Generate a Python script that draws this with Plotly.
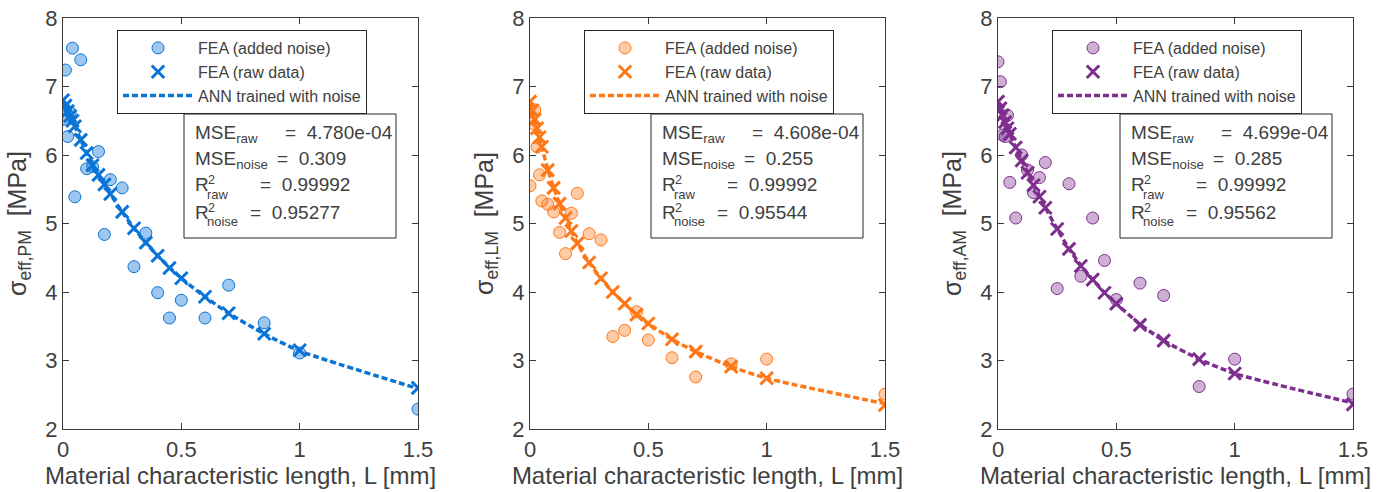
import plotly.graph_objects as go

# ---------------- data ----------------
L_mm = [0, 0.01, 0.02, 0.03, 0.04, 0.05, 0.075, 0.1, 0.125, 0.15, 0.175, 0.2,
        0.25, 0.3, 0.35, 0.4, 0.45, 0.5, 0.6, 0.7, 0.85, 1.0, 1.5]

pm_raw = [6.80, 6.72, 6.64, 6.57, 6.50, 6.42, 6.22, 6.03, 5.85, 5.71, 5.57, 5.43,
          5.17, 4.93, 4.72, 4.53, 4.35, 4.20, 3.93, 3.69, 3.39, 3.15, 2.60]
pm_noise = [6.52, 7.24, 6.27, 6.62, 7.56, 5.39, 7.39, 5.80, 5.83, 6.05, 4.84, 5.64,
            5.52, 4.37, 4.86, 3.99, 3.62, 3.88, 3.62, 4.10, 3.55, 3.11, 2.29]
pm_ann = [6.79, 6.71, 6.63, 6.56, 6.49, 6.42, 6.22, 6.03, 5.86, 5.71, 5.57, 5.43,
          5.17, 4.93, 4.72, 4.53, 4.36, 4.20, 3.93, 3.69, 3.39, 3.14, 2.59]

lm_raw = [6.78, 6.65, 6.52, 6.39, 6.26, 6.12, 5.78, 5.52, 5.29, 5.08, 4.89, 4.71,
          4.43, 4.20, 4.00, 3.83, 3.67, 3.54, 3.31, 3.13, 2.91, 2.74, 2.35]
lm_noise = [5.55, 6.46, 6.66, 6.12, 5.71, 5.33, 5.28, 5.17, 4.87, 4.56, 5.15, 5.44,
            4.85, 4.76, 3.35, 3.44, 3.71, 3.30, 3.04, 2.76, 2.95, 3.02, 2.51]
lm_ann = [6.77, 6.64, 6.51, 6.38, 6.25, 6.12, 5.79, 5.52, 5.29, 5.08, 4.89, 4.71,
          4.43, 4.20, 4.00, 3.83, 3.67, 3.54, 3.31, 3.13, 2.91, 2.74, 2.37]

am_raw = [6.78, 6.68, 6.58, 6.48, 6.39, 6.31, 6.11, 5.92, 5.74, 5.56, 5.39, 5.23,
          4.92, 4.63, 4.38, 4.18, 3.99, 3.83, 3.52, 3.29, 3.02, 2.81, 2.36]
am_noise = [7.36, 7.07, 6.29, 6.27, 6.58, 5.60, 5.08, 6.00, 5.78, 5.45, 5.67, 5.89,
            4.05, 5.58, 4.23, 5.08, 4.46, 3.89, 4.13, 3.95, 2.62, 3.02, 2.51]
am_ann = [6.78, 6.68, 6.58, 6.48, 6.39, 6.31, 6.11, 5.92, 5.74, 5.56, 5.39, 5.23,
          4.92, 4.63, 4.39, 4.18, 3.99, 3.83, 3.53, 3.29, 3.02, 2.81, 2.38]

panel_names = ["PM", "LM", "AM"]
stats_mse_raw = ["4.780e-04", "4.608e-04", "4.699e-04"]
stats_mse_noise = ["0.309", "0.255", "0.285"]
stats_r2_raw = ["0.99992", "0.99992", "0.99992"]
stats_r2_noise = ["0.95277", "0.95544", "0.95562"]

x_ticks = [0, 0.5, 1, 1.5]
x_tick_text = ["0", "0.5", "1", "1.5"]
y_ticks = [2, 3, 4, 5, 6, 7, 8]

# ---------------- style ----------------
W, H = 1383, 492
colors = ["#0A74D6", "#FF7716", "#7E2F8E"]
fills = ["rgba(10,116,214,0.40)", "rgba(255,119,22,0.38)", "rgba(126,47,142,0.38)"]
axis_color = "#3a3a3a"
text_color = "#404040"
FONT = "Liberation Sans, Arial, sans-serif"

x_px = [(63, 418), (530, 885), (998, 1353)]
y_px = (18, 429)
legend_px = [(117, 30), (584, 30), (1052, 30)]
stats_box = [(184, 114), (651, 114), (1120, 114)]
STATS_W, STATS_H = 212, 124
# row layout inside the stats box (px offsets from the box's top-left)
row_y = [18, 44, 71, 99]
eq_x = [99, 91, 74, 64]
lab_x = 9

raws = [pm_raw, lm_raw, am_raw]
noises = [pm_noise, lm_noise, am_noise]
anns = [pm_ann, lm_ann, am_ann]

fig = go.Figure()
layout = dict(
    width=W, height=H,
    margin=dict(l=0, r=0, t=0, b=0, autoexpand=False),
    paper_bgcolor="white", plot_bgcolor="white",
    font=dict(family=FONT, color=text_color),
    showlegend=True,
    annotations=[], shapes=[],
)


def px(xp, yp):
    return xp / W, 1 - yp / H


def add_text(text, xp, yp, size, xanchor="left"):
    x, y = px(xp, yp)
    layout["annotations"].append(dict(
        xref="paper", yref="paper", x=x, y=y, xanchor=xanchor, yanchor="middle",
        text=text, showarrow=False, align="left",
        font=dict(size=size, color=text_color, family=FONT)))


nbsp = "\u00a0"
for i in range(3):
    sfx = "" if i == 0 else str(i + 1)
    xa, ya = "x" + sfx, "y" + sfx
    leg = "legend" + sfx
    c = colors[i]
    fig.add_trace(go.Scatter(
        x=L_mm, y=noises[i], mode="markers", name="FEA (added noise)",
        marker=dict(symbol="circle", size=12, color=fills[i],
                    line=dict(color=c, width=1)),
        xaxis=xa, yaxis=ya, legend=leg, legendrank=1))
    fig.add_trace(go.Scatter(
        x=L_mm, y=anns[i], mode="lines", name="ANN trained with noise",
        line=dict(color=c, width=3.5, dash="6px,3px", shape="spline", smoothing=0.6),
        xaxis=xa, yaxis=ya, legend=leg, legendrank=3))
    fig.add_trace(go.Scatter(
        x=L_mm, y=raws[i], mode="markers", name="FEA (raw data)",
        marker=dict(symbol="x-thin", size=12.5, color=c,
                    line=dict(color=c, width=3)),
        xaxis=xa, yaxis=ya, legend=leg, legendrank=2))

    x0, x1 = x_px[i]
    layout["xaxis" + sfx] = dict(
        domain=[x0 / W, x1 / W], range=[0, 1.5], anchor=ya, automargin=False,
        tickvals=x_ticks, ticktext=x_tick_text, ticks="inside", ticklen=6,
        tickcolor=axis_color, showline=True, linecolor=axis_color, linewidth=1.3,
        mirror="ticks", showgrid=False, zeroline=False,
        tickfont=dict(size=22, color=text_color, family=FONT),
        title=dict(text="Material characteristic length, L [mm]",
                   font=dict(size=24, color=text_color, family=FONT), standoff=4),
    )
    layout["yaxis" + sfx] = dict(
        domain=[1 - y_px[1] / H, 1 - y_px[0] / H], range=[2, 8], anchor=xa, automargin=False,
        tickvals=y_ticks, ticks="inside", ticklen=6,
        tickcolor=axis_color, showline=True, linecolor=axis_color, linewidth=1.3,
        mirror="ticks", showgrid=False, zeroline=False,
        tickfont=dict(size=22, color=text_color, family=FONT),
        title=dict(text="\u03c3<sub>eff," + panel_names[i] + "</sub>" + nbsp + nbsp + "[MPa]",
                   font=dict(size=25, color=text_color, family=FONT), standoff=11),
    )
    lx, ly = legend_px[i]
    layout[leg] = dict(
        x=lx / W, y=1 - ly / H, xanchor="left", yanchor="top",
        bgcolor="white", bordercolor="#262626", borderwidth=1,
        font=dict(size=16, color=text_color, family=FONT),
        itemwidth=70, tracegroupgap=0, traceorder="normal",
    )

    # statistics box
    bx, by = stats_box[i]
    (sx0, sy1), (sx1, sy0) = px(bx, by), px(bx + STATS_W, by + STATS_H)
    layout["shapes"].append(dict(
        type="rect", xref="paper", yref="paper", x0=sx0, x1=sx1, y0=sy0, y1=sy1,
        line=dict(color="#262626", width=1), fillcolor="white", layer="above"))
    # row 1 / 2 : MSE
    add_text("MSE<sub>raw</sub>", bx + lab_x, by + row_y[0] + 2, 19)
    add_text("MSE<sub>noise</sub>", bx + lab_x, by + row_y[1] + 2, 19)
    # row 3 / 4 : R^2 with stacked super/subscripts
    for r, sub in ((2, "raw"), (3, "noise")):
        add_text("R", bx + lab_x, by + row_y[r], 19)
        add_text("2", bx + lab_x + 13, by + row_y[r] - 5, 12.5)
        add_text(sub, bx + lab_x + 12, by + row_y[r] + 9, 13)
    vals = [stats_mse_raw[i], stats_mse_noise[i], stats_r2_raw[i], stats_r2_noise[i]]
    for r in range(4):
        add_text("=" + nbsp * 2 + vals[r], bx + eq_x[r], by + row_y[r], 19)

fig.update_layout(**layout)
fig.write_html("out.html")
